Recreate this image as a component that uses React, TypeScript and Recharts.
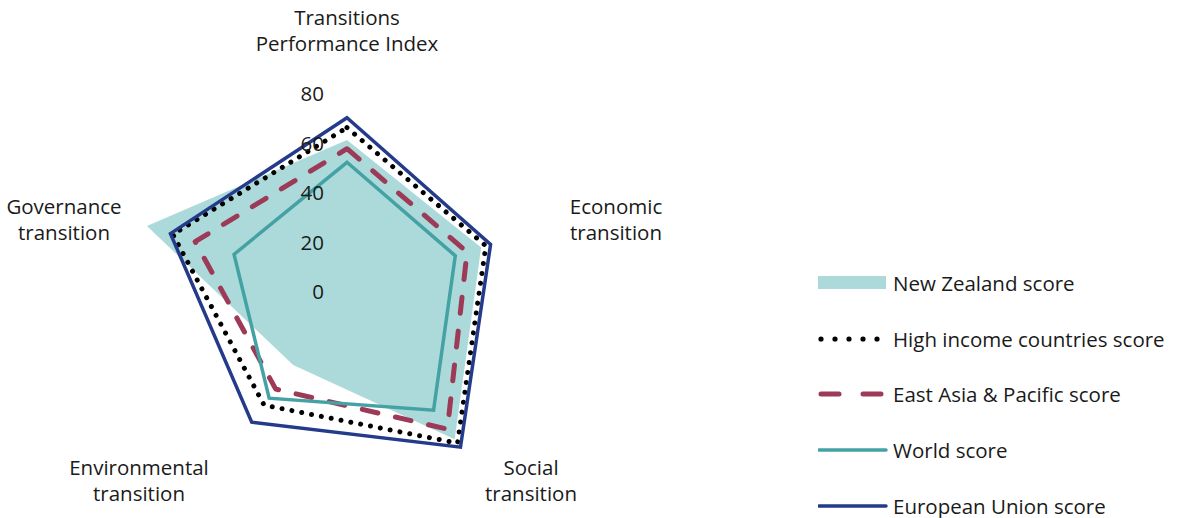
import React from "react";
import {
  RadarChart,
  Radar,
  PolarAngleAxis,
  PolarRadiusAxis,
  Legend,
} from "recharts";

const categories = [
  "Transitions Performance Index",
  "Economic transition",
  "Social transition",
  "Environmental transition",
  "Governance transition",
];

const newZealand = [61, 57, 74, 37, 85];
const highIncome = [66, 59, 76, 57, 74];
const eastAsiaPacific = [57.5, 51, 69, 49, 64.5];
const world = [52, 46, 59.5, 53.5, 48];
const europeanUnion = [70, 61, 78, 65.5, 75];

const radiusTicks = [0, 20, 40, 60, 80];

// two-line labels for each axis
const labelLines = [
  ["Transitions", "Performance Index"],
  ["Economic", "transition"],
  ["Social", "transition"],
  ["Environmental", "transition"],
  ["Governance", "transition"],
];

const CX = 347;
const CY = 291;
const FONT = "'Open Sans', sans-serif";
const FS = 20.5;

// label centre offsets from the chart centre
const labelOffsets = [
  [0, -262],
  [269, -73],
  [184, 188],
  [-208, 188],
  [-283, -73],
];

const data = categories.map((c, i) => ({
  subject: c,
  nz: newZealand[i],
  hi: highIncome[i],
  eap: eastAsiaPacific[i],
  world: world[i],
  eu: europeanUnion[i],
}));

const series = [
  { key: "nz", name: "New Zealand score", type: "fill", color: "#acdada" },
  { key: "hi", name: "High income countries score", type: "dot", color: "#000000" },
  { key: "eap", name: "East Asia & Pacific score", type: "dash", color: "#9c3a57" },
  { key: "world", name: "World score", type: "line", color: "#45a2a4" },
  { key: "eu", name: "European Union score", type: "line", color: "#233b8a" },
];

const AngleTick = (props: any) => {
  const i = categories.indexOf(props.payload.value);
  const [dx, dy] = labelOffsets[i];
  const lines = labelLines[i];
  return (
    <text
      x={CX + dx}
      y={CY + dy}
      textAnchor="middle"
      fontFamily={FONT}
      fontSize={FS}
      fill="#1a1a1a"
    >
      {lines.map((l, k) => (
        <tspan key={k} x={CX + dx} dy={k === 0 ? -4 : 26}>
          {l}
        </tspan>
      ))}
    </text>
  );
};

const RadiusTick = (props: any) => (
  <text
    x={props.x - 23}
    y={props.y}
    textAnchor="end"
    dominantBaseline="central"
    fontFamily={FONT}
    fontSize={FS}
    fill="#1a1a1a"
  >
    {props.payload.value}
  </text>
);

const LegendContent = () => (
  <div style={{ position: "absolute", left: 818, top: 255 }}>
    {series.map((s) => (
      <div
        key={s.key}
        style={{ display: "flex", alignItems: "center", height: 55.7 }}
      >
        <svg width={75} height={20}>
          {s.type === "fill" && (
            <rect x={0} y={3} width={68} height={13} fill={s.color} />
          )}
          {s.type === "dot" &&
            [3, 17, 31, 45, 59].map((x) => (
              <circle key={x} cx={x} cy={10} r={2.6} fill={s.color} />
            ))}
          {s.type === "dash" && (
            <line
              x1={3}
              y1={10}
              x2={66}
              y2={10}
              stroke={s.color}
              strokeWidth={5}
              strokeLinecap="round"
              strokeDasharray="18 24"
            />
          )}
          {s.type === "line" && (
            <line
              x1={1}
              y1={10}
              x2={68}
              y2={10}
              stroke={s.color}
              strokeWidth={3.5}
              strokeLinecap="round"
            />
          )}
        </svg>
        <span
          style={{
            fontFamily: FONT,
            fontSize: FS,
            color: "#1a1a1a",
            whiteSpace: "nowrap",
          }}
        >
          {s.name}
        </span>
      </div>
    ))}
  </div>
);

export default function App() {
  return (
    <div
      style={{
        position: "absolute",
        left: 0,
        top: 0,
        width: 1180,
        height: 518,
        background: "#ffffff",
      }}
    >
      <RadarChart
        width={1180}
        height={518}
        data={data}
        cx={CX}
        cy={CY}
        outerRadius={198}
        margin={{ top: 0, right: 0, bottom: 0, left: 0 }}
      >
        <PolarAngleAxis
          dataKey="subject"
          tick={<AngleTick />}
          tickLine={false}
          axisLine={false}
        />
        <PolarRadiusAxis
          angle={90}
          domain={[0, 80]}
          ticks={radiusTicks as any}
          allowDataOverflow
          axisLine={false}
          tickLine={false}
          tick={<RadiusTick />}
        />
        <Radar
          name="New Zealand score"
          dataKey="nz"
          stroke="none"
          fill="#acdada"
          fillOpacity={1}
          isAnimationActive={false}
        />
        <Radar
          name="High income countries score"
          dataKey="hi"
          stroke="#000000"
          strokeWidth={5}
          strokeDasharray="0.01 10"
          strokeLinecap="round"
          fill="none"
          isAnimationActive={false}
        />
        <Radar
          name="East Asia & Pacific score"
          dataKey="eap"
          stroke="#9c3a57"
          strokeWidth={5}
          strokeDasharray="16 18"
          strokeLinecap="round"
          strokeLinejoin="round"
          fill="none"
          isAnimationActive={false}
        />
        <Radar
          name="World score"
          dataKey="world"
          stroke="#45a2a4"
          strokeWidth={3.5}
          fill="none"
          isAnimationActive={false}
        />
        <Radar
          name="European Union score"
          dataKey="eu"
          stroke="#233b8a"
          strokeWidth={3.5}
          fill="none"
          isAnimationActive={false}
        />
        <Legend
          content={<LegendContent />}
          wrapperStyle={{ position: "absolute", left: 0, top: 0, width: 0, height: 0 }}
        />
      </RadarChart>
    </div>
  );
}
